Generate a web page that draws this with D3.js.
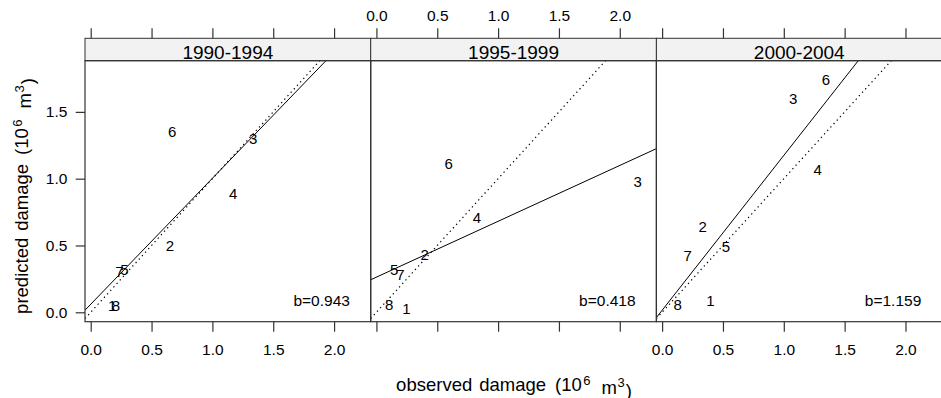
<!DOCTYPE html>
<html>
<head>
<meta charset="utf-8">
<script src="https://cdn.jsdelivr.net/npm/d3@7"></script>
<style>
body { margin: 0; background: #fff; }
text { font-family: "Liberation Sans", Arial, Helvetica, sans-serif; }
</style>
</head>
<body>
<div id="plot"></div>
<script>
// panels and point labels
var periods = ["1990-1994", "1995-1999", "2000-2004"];
var pointLabels = ["1", "2", "3", "4", "5", "6", "7", "8"];

// observed / predicted damage (10^6 m^3), one pair of arrays per period
var obs1990 = [0.177, 0.651, 1.335, 1.171, 0.276, 0.670, 0.235, 0.208];
var pred1990 = [0.050, 0.499, 1.303, 0.891, 0.324, 1.353, 0.304, 0.050];
var obs1995 = [0.246, 0.397, 2.148, 0.826, 0.145, 0.594, 0.197, 0.104];
var pred1995 = [0.030, 0.434, 0.978, 0.709, 0.317, 1.116, 0.285, 0.055];
var obs2000 = [0.397, 0.333, 1.078, 1.278, 0.525, 1.346, 0.210, 0.128];
var pred2000 = [0.087, 0.641, 1.603, 1.066, 0.491, 1.745, 0.424, 0.062];

// fitted lines
var slopes = [0.943, 0.418, 1.159];
var intercepts = [0.060, 0.263, 0.015];

var xTicks = [0, 0.5, 1, 1.5, 2];
var yTicks = [0, 0.5, 1, 1.5];

var obsList = [obs1990, obs1995, obs2000];
var predList = [pred1990, pred1995, pred2000];

var W = 941, H = 398;
var left = 85, pw = 285.7,
    stripTop = 38.3, panelTop = 60.7, panelBottom = 321.7;
var xlim = [-0.047, 2.301], ylim = [-0.0704, 1.883];
var font = "'Liberation Sans', Arial, sans-serif";

var svg = d3.select("#plot").append("svg")
    .attr("width", W)
    .attr("height", H);

var yScale = d3.scaleLinear().domain(ylim).range([panelBottom, panelTop]);

svg.append("defs").selectAll("clipPath")
    .data(periods).enter()
    .append("clipPath")
    .attr("id", function(d, i) { return "clip" + i; })
    .append("rect")
    .attr("x", function(d, i) { return left + i * pw; })
    .attr("y", panelTop)
    .attr("width", pw)
    .attr("height", panelBottom - panelTop);

periods.forEach(function(period, i) {
    var x0 = left + i * pw;
    var xScale = d3.scaleLinear().domain(xlim).range([x0, x0 + pw]);
    var g = svg.append("g");

    // strip
    g.append("rect")
        .attr("x", x0).attr("y", stripTop)
        .attr("width", pw).attr("height", panelTop - stripTop)
        .attr("fill", "#f2f2f2")
        .attr("stroke", "#333").attr("stroke-width", 1);
    g.append("text")
        .attr("x", x0 + pw / 2).attr("y", panelTop - 1.3)
        .attr("text-anchor", "middle")
        .style("font-size", "19px")
        .text(period);

    // 1:1 line and fitted line
    var lines = g.append("g").attr("clip-path", "url(#clip" + i + ")");
    lines.append("line")
        .attr("x1", xScale(xlim[0])).attr("y1", yScale(xlim[0]))
        .attr("x2", xScale(xlim[1])).attr("y2", yScale(xlim[1]))
        .attr("stroke", "#000").attr("stroke-width", 1.2)
        .attr("stroke-dasharray", "1.3,3.4");
    lines.append("line")
        .attr("x1", xScale(xlim[0])).attr("y1", yScale(intercepts[i] + slopes[i] * xlim[0]))
        .attr("x2", xScale(xlim[1])).attr("y2", yScale(intercepts[i] + slopes[i] * xlim[1]))
        .attr("stroke", "#000").attr("stroke-width", 1);

    // points drawn as their labels
    g.append("g").selectAll("text")
        .data(pointLabels).enter()
        .append("text")
        .attr("x", function(d, j) { return xScale(obsList[i][j]); })
        .attr("y", function(d, j) { return yScale(predList[i][j]); })
        .attr("text-anchor", "middle")
        .attr("dominant-baseline", "central")
        .style("font-size", "15px")
        .text(function(d) { return d; });

    g.append("text")
        .attr("x", xScale(2.13)).attr("y", yScale(0.09))
        .attr("text-anchor", "end")
        .attr("dominant-baseline", "central")
        .style("font-size", "15.5px")
        .text("b=" + slopes[i].toFixed(3));

    // panel border
    g.append("rect")
        .attr("x", x0).attr("y", panelTop)
        .attr("width", pw).attr("height", panelBottom - panelTop)
        .attr("fill", "none")
        .attr("stroke", "#333").attr("stroke-width", 1.2);

    // axes, alternating like lattice
    var bottom = d3.axisBottom(xScale).tickValues(xTicks).tickSize(10).tickPadding(12.7)
        .tickFormat(i === 1 ? function() { return ""; } : d3.format(".1f"));
    var top = d3.axisTop(xScale).tickValues(xTicks).tickSize(10).tickPadding(7.6)
        .tickFormat(i === 1 ? d3.format(".1f") : function() { return ""; });
    var gb = g.append("g").attr("transform", "translate(0," + panelBottom + ")").call(bottom);
    var gt = g.append("g").attr("transform", "translate(0," + stripTop + ")").call(top);
    [gb, gt].forEach(function(a) {
        a.select(".domain").remove();
        a.selectAll("line").attr("stroke", "#333").attr("stroke-width", 1.2);
        a.selectAll("text").attr("fill", "#000").style("font-size", "15.5px")
            .style("font-family", font);
    });

    if (i === 0) {
        var gl = g.append("g").attr("transform", "translate(" + x0 + ",0)")
            .call(d3.axisLeft(yScale).tickValues(yTicks).tickSize(9.3).tickPadding(8.3)
                .tickFormat(d3.format(".1f")));
        gl.select(".domain").remove();
        gl.selectAll("line").attr("stroke", "#333").attr("stroke-width", 1.2);
        gl.selectAll("text").attr("fill", "#000").style("font-size", "15.5px")
            .style("font-family", font);
    }
});

// axis titles with superscripts
function title(sel, word) {
    sel.style("font-size", "18.5px").attr("text-anchor", "middle");
    sel.append("tspan").text(word);
    sel.append("tspan").attr("dx", 7).text("damage");
    sel.append("tspan").attr("dx", 9).text("(10");
    sel.append("tspan").attr("dx", 1.5).attr("dy", "-0.5em").style("font-size", "13px").text("6");
    sel.append("tspan").attr("dx", 11).attr("dy", "0.5em").text("m");
    sel.append("tspan").attr("dx", 0.5).attr("dy", "-0.5em").style("font-size", "13px").text("3");
    sel.append("tspan").attr("dx", 1).attr("dy", "0.5em").text(")");
}

svg.append("text")
    .attr("x", 514).attr("y", 391)
    .call(title, "observed");

svg.append("text")
    .attr("transform", "translate(28,196) rotate(-90)")
    .call(title, "predicted");
</script>
</body>
</html>
